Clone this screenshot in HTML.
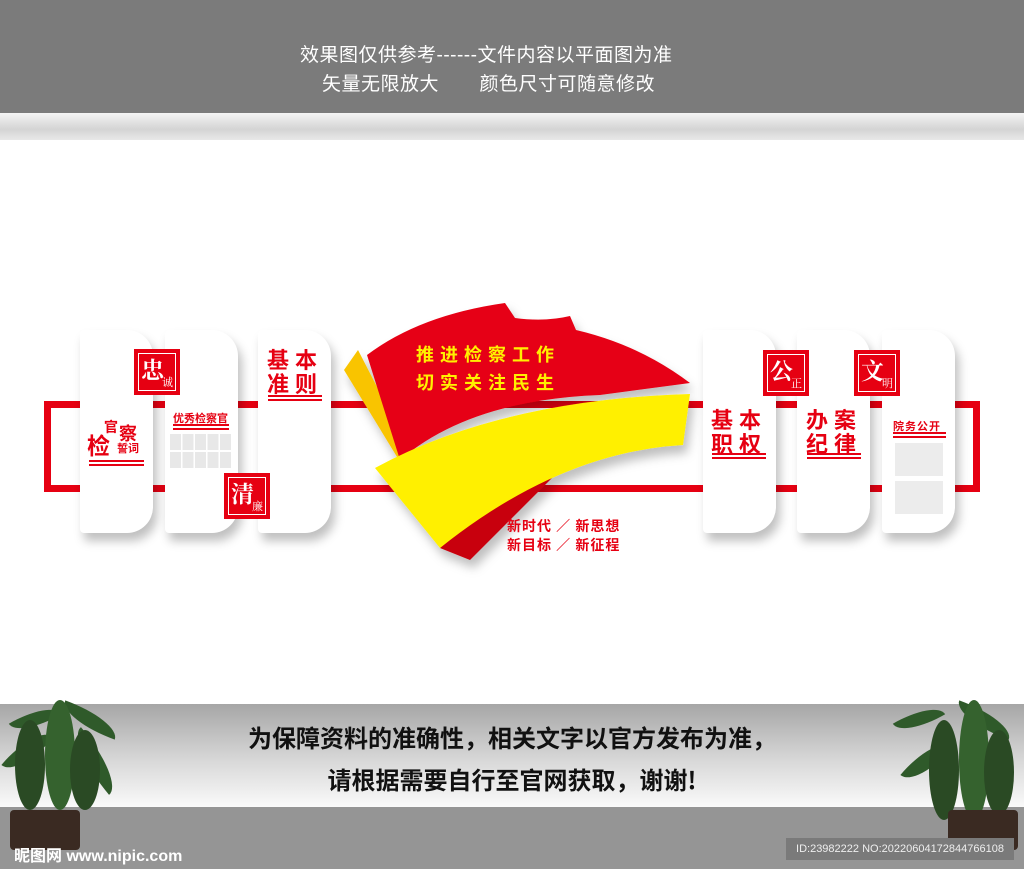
<!DOCTYPE html>
<html><head><meta charset="utf-8"><style>
*{margin:0;padding:0}
body{width:1024px;height:869px;position:relative;overflow:hidden;background:#fff;font-family:"Liberation Sans","Noto Sans CJK SC",sans-serif}
.a{position:absolute}
.top{left:0;top:0;width:1024px;height:113px;background:#7b7b7b;color:#fff;font-size:19px;letter-spacing:0.5px}
.strip{left:0;top:113px;width:1024px;height:27px;background:linear-gradient(#f4f4f4,#d4d4d4 60%,#e8e8e8)}
.panel{position:absolute;top:330px;width:73px;height:203px;background:#fff;border-radius:4px 26px 26px 4px;box-shadow:4px 8px 10px rgba(0,0,0,.25)}
.bar{position:absolute;background:#e60012}
.sq{position:absolute;width:46px;height:46px;background:#e60012;color:#fff;box-sizing:border-box;border:2px solid #e60012;outline:1px solid #fff;outline-offset:-5px;font-family:"Noto Serif CJK SC",serif}
.sq b{position:absolute;left:5px;top:1px;font-size:23px;font-weight:bold}
.sq i{position:absolute;right:5px;bottom:3px;font-size:11px;font-style:normal}
.t{position:absolute;color:#e60012;font-weight:bold;font-family:"Noto Sans CJK SC",sans-serif}
.ul{position:absolute;height:2px;background:#e60012;box-shadow:0 4px 0 #e60012}
.leaf{position:absolute;background:#2f5a2a;border-radius:0 100% 0 100%}
</style></head><body>
<div class="a top"><div class="a" style="left:300px;top:40px">效果图仅供参考------文件内容以平面图为准</div><div class="a" style="left:322px;top:69px">矢量无限放大&nbsp;&nbsp;&nbsp;&nbsp;&nbsp;&nbsp;&nbsp;颜色尺寸可随意修改</div></div>
<div class="a strip"></div>

<div class="bar" style="left:44px;top:401px;width:936px;height:7px"></div>
<div class="bar" style="left:44px;top:485px;width:936px;height:7px"></div>
<div class="bar" style="left:44px;top:401px;width:7px;height:91px"></div>
<div class="bar" style="left:973px;top:401px;width:7px;height:91px"></div>

<div class="panel" style="left:80px"></div>
<div class="panel" style="left:165px"></div>
<div class="panel" style="left:258px"></div>
<div class="panel" style="left:703px"></div>
<div class="panel" style="left:797px"></div>
<div class="panel" style="left:882px"></div>

<div class="sq" style="left:134px;top:349px"><b>忠</b><i>诚</i></div>
<div class="sq" style="left:224px;top:473px"><b>清</b><i>廉</i></div>
<div class="sq" style="left:763px;top:350px"><b>公</b><i>正</i></div>
<div class="sq" style="left:854px;top:350px"><b>文</b><i>明</i></div>

<div class="t" style="left:87px;top:427px;font-size:23px">检</div>
<div class="t" style="left:104px;top:417px;font-size:14px">官</div>
<div class="t" style="left:119px;top:420px;font-size:18px">察</div>
<div class="t" style="left:117px;top:440px;font-size:11px">誓词</div>
<div class="ul" style="left:89px;top:460px;width:55px"></div>

<div class="t" style="left:173px;top:410px;font-size:11px">优秀检察官</div>
<div class="ul" style="left:173px;top:424px;width:56px"></div>
<div class="a" style="left:170px;top:434px;width:62px;height:34px;background:repeating-linear-gradient(90deg,#e8e8e8 0 11px,#fff 11px 12.5px)"></div>
<div class="a" style="left:170px;top:450px;width:62px;height:2px;background:#fff"></div>

<div class="t" style="left:267px;top:347px;font-size:22px;line-height:24px;letter-spacing:6px">基本<br>准则</div>
<div class="ul" style="left:268px;top:395px;width:54px"></div>

<div class="t" style="left:711px;top:407px;font-size:22px;line-height:24px;letter-spacing:6px">基本<br>职权</div>
<div class="ul" style="left:712px;top:453px;width:54px"></div>
<div class="t" style="left:806px;top:407px;font-size:22px;line-height:24px;letter-spacing:6px">办案<br>纪律</div>
<div class="ul" style="left:807px;top:453px;width:54px"></div>
<div class="t" style="left:893px;top:418px;font-size:11px;letter-spacing:1px">院务公开</div>
<div class="ul" style="left:893px;top:432px;width:53px"></div>
<div class="a" style="left:895px;top:443px;width:48px;height:33px;background:#ececec"></div>
<div class="a" style="left:895px;top:481px;width:48px;height:33px;background:#ececec"></div>

<svg class="a" style="left:0;top:0" width="1024" height="869">
<defs><filter id="sh"><feDropShadow dx="4" dy="8" stdDeviation="5" flood-opacity=".25"/></filter></defs>
<g filter="url(#sh)">
<path d="M344,370 L358,350 L420,470 L405,470 Z" fill="#f9c400"/>
<path d="M440,548 L470,560 L560,470 L520,470 Z" fill="#c8000f"/>
<path d="M367,355 Q420,315 505,303 L515,318 Q545,322 570,316 L576,330 Q640,345 690,383 L600,395 Q470,400 400,460 Z" fill="#e60012"/>
<path d="M375,468 Q500,400 690,394 L683,445 Q560,452 440,548 Z" fill="#fff000"/>
</g>
<text x="416" y="361" font-size="18" font-weight="bold" fill="#fff000" font-family="Noto Sans CJK SC" letter-spacing="6">推进检察工作</text>
<text x="416" y="389" font-size="18" font-weight="bold" fill="#fff000" font-family="Noto Sans CJK SC" letter-spacing="6">切实关注民生</text>
<text x="507" y="531" font-size="14" font-weight="bold" fill="#e60012" font-family="Noto Sans CJK SC" letter-spacing="1">新时代 ／ 新思想</text>
<text x="507" y="550" font-size="14" font-weight="bold" fill="#e60012" font-family="Noto Sans CJK SC" letter-spacing="1">新目标 ／ 新征程</text>
</svg>

<div class="a" style="left:0;top:704px;width:1024px;height:103px;background:linear-gradient(#a6a6a6,#d8d8d8 55%,#fafafa)"></div>
<div class="a" style="left:0;top:807px;width:1024px;height:62px;background:#959595"></div>
<div class="a" style="left:0;top:716px;width:1024px;text-align:center;font-size:24px;font-weight:bold;color:#111;font-family:'Noto Sans CJK SC',sans-serif;line-height:42px">为保障资料的准确性，相关文字以官方发布为准，<br>请根据需要自行至官网获取，谢谢!</div>

<!-- plants -->
<div class="a" style="left:0;top:680px;width:140px;height:150px">
<div class="leaf" style="left:10px;top:30px;width:50px;height:18px;transform:rotate(-30deg)"></div>
<div class="leaf" style="left:60px;top:30px;width:60px;height:20px;transform:rotate(20deg)"></div>
<div class="leaf" style="left:0;top:60px;width:55px;height:22px;transform:rotate(-50deg)"></div>
<div class="leaf" style="left:60px;top:70px;width:70px;height:22px;transform:rotate(50deg)"></div>
<div class="leaf" style="left:15px;top:40px;width:30px;height:90px;border-radius:50%;background:#2a4a24"></div>
<div class="leaf" style="left:45px;top:20px;width:30px;height:110px;border-radius:50%;background:#35622e"></div>
<div class="leaf" style="left:70px;top:50px;width:30px;height:80px;border-radius:50%;background:#2a4a24"></div>
</div>
<div class="a" style="left:10px;top:810px;width:70px;height:40px;background:#3a2a22;border-radius:4px"></div>
<div class="a" style="left:884px;top:680px;width:140px;height:150px">
<div class="leaf" style="left:10px;top:30px;width:50px;height:18px;transform:rotate(-30deg)"></div>
<div class="leaf" style="left:70px;top:30px;width:60px;height:20px;transform:rotate(20deg)"></div>
<div class="leaf" style="left:15px;top:70px;width:55px;height:22px;transform:rotate(-50deg)"></div>
<div class="leaf" style="left:75px;top:70px;width:60px;height:22px;transform:rotate(50deg)"></div>
<div class="leaf" style="left:45px;top:40px;width:30px;height:100px;border-radius:50%;background:#2a4a24"></div>
<div class="leaf" style="left:75px;top:20px;width:30px;height:120px;border-radius:50%;background:#35622e"></div>
<div class="leaf" style="left:100px;top:50px;width:30px;height:85px;border-radius:50%;background:#2a4a24"></div>
</div>
<div class="a" style="left:948px;top:810px;width:70px;height:40px;background:#3a2a22;border-radius:4px"></div>
<div class="a" style="left:14px;top:842px;color:#fff;font-size:16px;font-weight:bold">昵图网 www.nipic.com</div>
<div class="a" style="left:786px;top:838px;width:228px;height:22px;background:#7a7a7a;color:#eee;font-size:11px;line-height:22px;text-align:center">ID:23982222 NO:20220604172844766108</div>
</body></html>
